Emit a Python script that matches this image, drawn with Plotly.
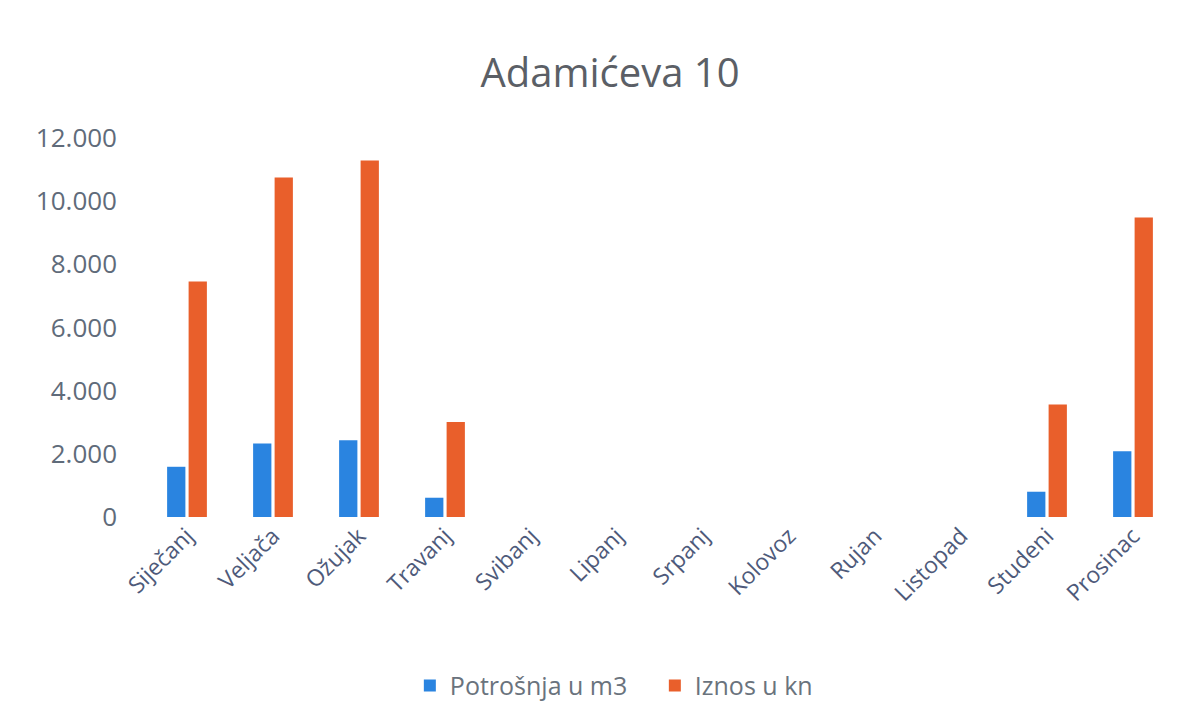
import plotly.graph_objects as go

# months (Croatian)
months = ["Siječanj", "Veljača", "Ožujak", "Travanj", "Svibanj", "Lipanj",
          "Srpanj", "Kolovoz", "Rujan", "Listopad", "Studeni", "Prosinac"]

# values (empty months have no bar)
potrosnja_m3 = [1590, 2330, 2430, 610, None, None, None, None, None, None, 800, 2080]
iznos_kn = [7460, 10750, 11290, 3010, None, None, None, None, None, None, 3560, 9480]

y_ticks = [0, 2000, 4000, 6000, 8000, 10000, 12000]

FONT = "Open Sans, Liberation Sans, sans-serif"

fig = go.Figure()
fig.add_trace(go.Bar(x=months, y=potrosnja_m3, name="Potrošnja u m3",
                     marker=dict(color="#2a84e0", line=dict(width=0))))
fig.add_trace(go.Bar(x=months, y=iznos_kn, name="Iznos u kn",
                     marker=dict(color="#e95f2b", line=dict(width=0))))

fig.update_layout(
    width=1204, height=725,
    paper_bgcolor="white", plot_bgcolor="white",
    separators=",.",
    barmode="group", bargap=0.5, bargroupgap=0.15,
    title=dict(text="Adamićeva 10", x=0.5, xanchor="center", y=0.91, yanchor="middle",
               font=dict(family=FONT, size=40, color="#5b5f66")),
    margin=dict(l=136, r=36, t=130, b=216),
    font=dict(family=FONT),
    legend=dict(orientation="h", x=0.495, xanchor="center", y=-0.445, yanchor="middle",
                font=dict(size=25, color="#6a737d"), itemwidth=30,
                entrywidth=200, traceorder="normal"),
    xaxis=dict(tickangle=-45, showgrid=False, showline=False, ticks="",
               tickfont=dict(size=23, color="#4e5a7a")),
    yaxis=dict(range=[0, 12000], tickvals=y_ticks, tickformat=",",
               showgrid=False, zeroline=False, showline=False, ticks="",
               ticklabelstandoff=26,
               tickfont=dict(size=26, color="#5f6b7a")),
)

fig.write_html("out.html")
